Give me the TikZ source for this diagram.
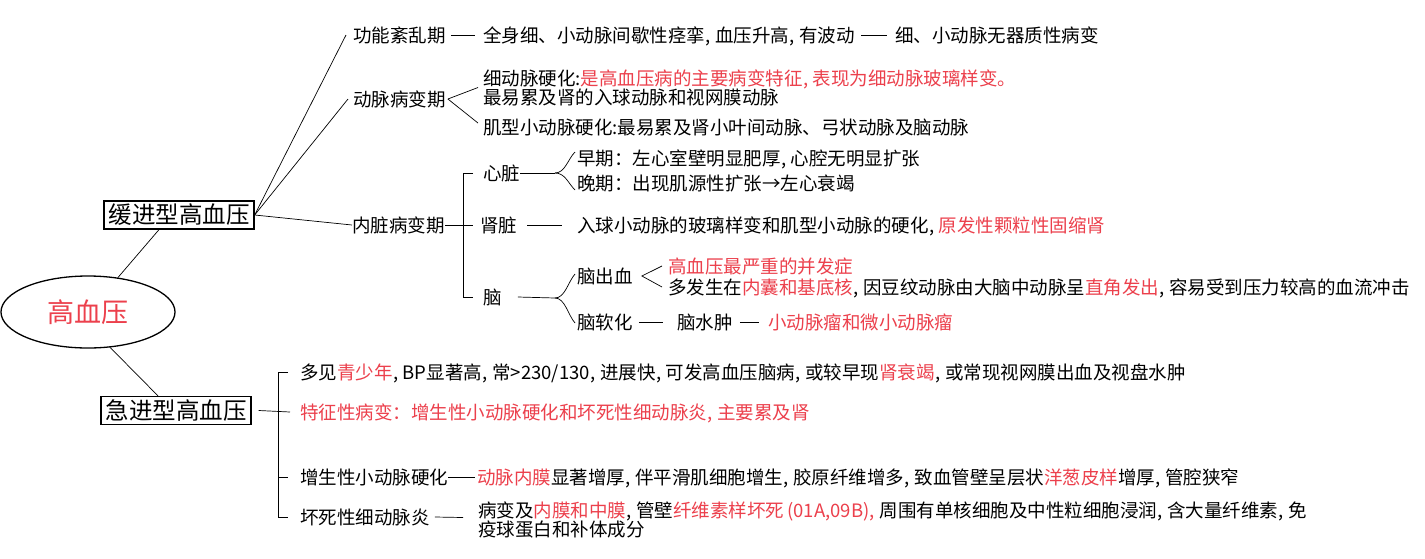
\documentclass[tikz,border=0pt]{standalone}
\usepackage{fontspec}
\setmainfont{Noto Sans CJK SC}
\usetikzlibrary{shapes.geometric,calc}
\definecolor{hl}{RGB}{236,64,76}
\newcommand\cmm{\kern0.5pt,\kern4.5pt}
\newcommand\hr[1]{\textcolor{hl}{#1}}
\begin{document}
\begin{tikzpicture}[x=1pt,y=-1pt,
  txt/.style={anchor=west,inner sep=0pt,font=\fontsize{18.5}{22}\selectfont,text height=16.3pt,text depth=2.2pt},
  big/.style={draw,line width=1.3pt,inner sep=0pt,font=\fontsize{23.5}{26}\selectfont,minimum width=150,minimum height=28},
  ln/.style={line width=0.7pt}]
\useasboundingbox[fill=white] (0,0) rectangle (1425,558);

% root and main branches
\node[draw,ellipse,line width=1.3pt,minimum width=174,minimum height=72,inner sep=0pt,text=hl,font=\fontsize{27}{30}\selectfont] (root) at (88,312) {高血压};
\node[big] (slow) at (179,215) {缓进型高血压};
\node[big] (fast) at (176,410.5) {急进型高血压};
\draw[ln] (root.49) -- ([xshift=-20pt]slow.south);
\draw[ln] (root.-58.6) -- ([xshift=-18pt]fast.north);

% slow: level 2
\node[txt] (f1) at (353,35) {功能紊乱期};
\node[txt] (f2) at (353,99) {动脉病变期};
\node[txt] (f3) at (352,225) {内脏病变期};
\draw[ln] (slow.east) -- ([xshift=-7pt]f1.west);
\draw[ln] (slow.east) -- ([xshift=-5pt]f2.west);
\draw[ln] (slow.east) -- (f3.west);

% 功能紊乱期
\node[txt] (t1) at (483,35) {全身细、小动脉间歇性痉挛\cmm 血压升高\cmm 有波动};
\node[txt] (t1b) at (895,35) {细、小动脉无器质性病变};
\draw[ln] ([xshift=5pt]f1.east) -- ([xshift=-8pt]t1.west);
\draw[ln] ([xshift=6pt]t1.east) -- ([xshift=-8pt]t1b.west);

% 动脉病变期
\node[txt] (a1) at (483,78) {细动脉硬化:\hr{是高血压病的主要病变特征\cmm 表现为细动脉玻璃样变。}};
\node[txt] (a1b) at (483,97) {最易累及肾的入球动脉和视网膜动脉};
\node[txt] (a2) at (483,127) {肌型小动脉硬化:最易累及肾小叶间动脉、弓状动脉及脑动脉};
\draw[ln] ([xshift=2pt]f2.east) -- ($($(a1.west)!0.5!(a1b.west)$)+(-5,0)$);
\draw[ln] ([xshift=2pt]f2.east) -- ([xshift=-5pt,yshift=4pt]a2.west);

% 内脏病变期
\node[txt] (h1) at (483,173) {心脏};
\node[txt] (h2) at (480,225) {肾脏};
\node[txt] (h3) at (483,297) {脑};
\draw[ln] ([xshift=-10pt]h1.west) -- ([xshift=-20pt]h1.west) -- ([xshift=-20pt]h3.west) -- ([xshift=-10pt]h3.west);
\draw[ln] (f3.east) -- ([xshift=-7pt]h2.west);

% 心脏
\node[txt] (e1) at (577,158) {早期：左心室壁明显肥厚\cmm 心腔无明显扩张};
\node[txt] (e2) at (577,183) {晚期：出现肌源性扩张→左心衰竭};
\coordinate (hj) at (555,173);
\draw[ln] (h1.east) -- (hj);
\draw[ln] (hj) .. controls +(10,0) and +(-7,7) .. ([xshift=-2pt,yshift=6pt]e1.west);
\draw[ln] (hj) .. controls +(10,0) and +(-7,-7) .. ([xshift=-2pt,yshift=-7pt]e2.west);

% 肾脏
\node[txt] (k1) at (577,225) {入球小动脉的玻璃样变和肌型小动脉的硬化\cmm\hr{原发性颗粒性固缩肾}};
\draw[ln] ([xshift=10pt]h2.east) -- ([xshift=-15pt]k1.west);

% 脑
\node[txt] (b1) at (577,276) {脑出血};
\node[txt] (b2) at (577,322) {脑软化};
\coordinate (bj) at (555,298);
\draw[ln] ([xshift=16pt]h3.east) -- (bj);
\draw[ln] (bj) .. controls +(10,0) and +(-7,8) .. ([xshift=-2pt,yshift=2pt]b1.west);
\draw[ln] (bj) .. controls +(10,0) and +(-7,-8) .. ([xshift=-2pt,yshift=-1pt]b2.west);
\node[txt] (r1) at (668,266) {\hr{高血压最严重的并发症}};
\node[txt] (r2) at (668,287) {多发生在\hr{内囊和基底核}\cmm 因豆纹动脉由大脑中动脉呈\hr{直角发出}\cmm 容易受到压力较高的血流冲击};
\draw[ln] ([xshift=-6pt]r1.west) -- ([xshift=9pt]b1.east) -- ([xshift=-6pt]r2.west);
\node[txt] (c1) at (677,322) {脑水肿};
\node[txt] (c2) at (768,322) {\hr{小动脉瘤和微小动脉瘤}};
\draw[ln] ([xshift=6pt]b2.east) -- ([xshift=-14pt]c1.west);
\draw[ln] ([xshift=7pt]c1.east) -- ([xshift=-9pt]c2.west);

% fast
\node[txt] (g1) at (300,372) {多见\hr{青少年}\cmm BP显著高\cmm 常>230/130\cmm 进展快\cmm 可发高血压脑病\cmm 或较早现\hr{肾衰竭}\cmm 或常现视网膜出血及视盘水肿};
\node[txt] (g2) at (300,412) {\hr{特征性病变：增生性小动脉硬化和坏死性细动脉炎\cmm 主要累及肾}};
\node[txt] (g3) at (300,477) {增生性小动脉硬化};
\node[txt] (g4) at (300,517) {坏死性细动脉炎};
\draw[ln] ([xshift=-12pt]g1.west) -- ([xshift=-22pt]g1.west) -- ([xshift=-22pt]g4.west) -- ([xshift=-12pt]g4.west);
\draw[ln] ([xshift=-22pt]g3.west) -- ([xshift=-12pt]g3.west);
\draw[ln] ([xshift=7pt]fast.east) -- ([xshift=-10pt]g2.west);

\node[txt] (g3t) at (477,477) {\hr{动脉内膜}显著增厚\cmm 伴平滑肌细胞增生\cmm 胶原纤维增多\cmm 致血管壁呈层状\hr{洋葱皮样}增厚\cmm 管腔狭窄};
\draw[ln] (g3.east) -- ([xshift=-2pt]g3t.west);
\node[txt] (g4t) at (478,510) {病变及\hr{内膜和中膜}\cmm 管壁\hr{纤维素样坏死\kern3pt(01A,09B)\cmm}周围有单核细胞及中性粒细胞浸润\cmm 含大量纤维素\cmm 免};
\node[txt] (g4u) at (478,529) {疫球蛋白和补体成分};
\draw[ln] ([xshift=5pt]g4.east) -- ($($(g4t.west)!0.5!(g4u.west)$)+(-15,-2)$);
\end{tikzpicture}
\end{document}
